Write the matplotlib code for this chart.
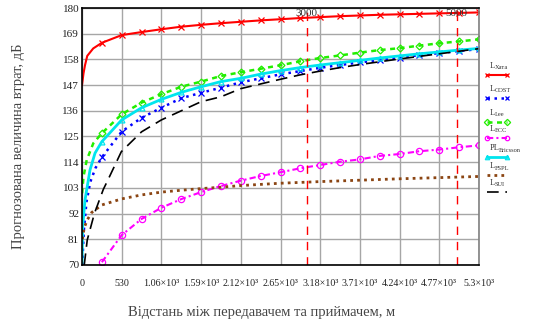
import matplotlib
matplotlib.use('Agg')
import matplotlib.pyplot as plt
from matplotlib.lines import Line2D

plt.rcParams['font.family'] = ['Liberation Serif', 'DejaVu Serif']

# ---------------- data ----------------
x_ticks = [0, 530, 1060, 1590, 2120, 2650, 3180, 3710, 4240, 4770, 5300]
x_tick_labels = ["0", "530", "1.06×10³", "1.59×10³", "2.12×10³", "2.65×10³",
                 "3.18×10³", "3.71×10³", "4.24×10³", "4.77×10³", "5.3×10³"]
y_ticks = [70, 81, 92, 103, 114, 125, 136, 147, 158, 169, 180]

d_marks = [265, 530, 795, 1060, 1325, 1590, 1855, 2120, 2385, 2650, 2915,
           3180, 3445, 3710, 3975, 4240, 4505, 4770, 5035, 5300]

# Hata (red)
hata_near_d = [0, 20, 40, 70, 150]
hata_near_v = [147, 152, 155.5, 159.5, 162.7]
hata_v = [165.1, 168.4, 169.7, 170.9, 172.0, 172.8, 173.5, 174.1, 174.7, 175.2,
          175.7, 176.1, 176.5, 176.8, 177.1, 177.3, 177.5, 177.7, 177.9, 178.1]

# COST (blue)
cost_near_d = [3, 25, 60, 110, 180]
cost_near_v = [70, 85, 97, 105.5, 111.5]
cost_v = [116.1, 127.1, 133.0, 137.3, 141.4, 143.7, 145.9, 148.2, 149.9, 151.6,
          153.0, 154.4, 155.6, 156.7, 157.8, 158.8, 159.8, 160.7, 161.6, 162.4]

# Lee (green)
lee_near_d = [2, 20, 63, 151]
lee_near_v = [100.7, 107.8, 114.9, 122.1]
lee_v = [126.4, 134.5, 139.5, 143.1, 146.3, 148.5, 150.9, 152.5, 154.0, 155.5,
         157.2, 158.6, 159.7, 160.9, 162.0, 162.8, 163.9, 164.9, 165.7, 166.6]

# ECC (magenta)
ecc_v = [71.2, 82.8, 89.7, 94.5, 98.2, 101.2, 103.8, 106.1, 108.1, 109.7,
         111.4, 112.8, 114.2, 115.2, 116.7, 117.5, 118.7, 119.4, 120.4, 121.2]

# Ericsson (cyan)
eric_near_d = [0, 9, 40, 107, 174]
eric_near_v = [70.1, 86.4, 97.8, 110.7, 117.9]
eric_v = [122.8, 132.1, 137.3, 140.9, 143.9, 146.3, 148.5, 149.9, 151.7, 153.2,
          154.5, 155.6, 156.6, 157.6, 158.6, 159.5, 160.4, 161.2, 162.0, 162.7]

# FSPL (brown)
fspl_d = [5, 30, 70, 130, 265, 530, 795, 1060, 1325, 1590, 1855, 2120, 2650,
          3180, 3710, 4240, 4770, 5300]
fspl_v = [81, 86, 89.3, 92.5, 95.7, 98.3, 100.0, 101.2, 102.0, 102.7, 103.3,
          104.0, 105.0, 105.7, 106.3, 106.9, 107.4, 107.9]

# SUI (black)
sui_d = [30, 70, 165, 285, 340, 525, 795, 1060, 1325, 1590, 1855, 2120, 2385,
         2650, 2915, 3180, 3445, 3710, 3975, 4240, 4505, 4770, 5035, 5300]
sui_v = [70, 80.7, 92, 102.4, 106, 118.5, 127, 132.1, 136.0, 139.9, 142.0,
         145.5, 147.5, 149.5, 151.4, 153.0, 154.5, 155.8, 157.0, 158.2, 159.3,
         160.4, 161.5, 162.6]

vlines_x = [3000, 5000]
vline_labels = ["3000", "5000"]

legend_labels = [("L", "Хата"), ("L", "COST"), ("L", "Lee"), ("L", "ECC"),
                 ("PL", "Ericsson"), ("L", "FSPL"), ("L", "SUI")]

# ---------------- figure ----------------
fig = plt.figure(figsize=(5.44, 3.26), dpi=100)
ax = fig.add_axes([82 / 544, 61 / 326, 397 / 544, 257 / 326])

ax.set_xlim(0, 5300)
ax.set_ylim(70, 180)
ax.set_xticks(x_ticks)
ax.set_xticklabels(x_tick_labels)
ax.set_yticks(y_ticks)
ax.set_yticklabels([str(v) for v in y_ticks])
ax.tick_params(length=0, labelsize=7.2, pad=10, axis='x')
ax.tick_params(length=0, labelsize=8, pad=2, axis='y')
for lbl in ax.get_xticklabels() + ax.get_yticklabels():
    lbl.set_color('#222222')
ax.grid(True, color='#a6a6a6', lw=1.0)
ax.set_axisbelow(True)
for s in ['left', 'bottom', 'top']:
    ax.spines[s].set_color('black')
    ax.spines[s].set_linewidth(1.2)
ax.spines['right'].set_color('#808080')
ax.spines['right'].set_linewidth(1.2)

styles = {}

n = len(hata_near_d)
styles['hata'] = dict(color='#ff0000', ls='-', lw=1.5, marker='x', ms=4.5, mew=0.9)
ax.plot(hata_near_d + d_marks, hata_near_v + hata_v,
        markevery=list(range(n, n + len(d_marks))), **styles['hata'])

n = len(cost_near_d)
styles['cost'] = dict(color='#0000ff', ls=(0, (1, 1.8)), lw=1.8, marker='x', ms=4.5, mew=0.9)
ax.plot(cost_near_d + d_marks, cost_near_v + cost_v,
        markevery=list(range(n, n + len(d_marks))), **styles['cost'])

n = len(lee_near_d)
styles['lee'] = dict(color='#22ee00', ls=(0, (2, 1.8)), lw=1.8, marker='D', ms=3.5,
                     mew=0.9, mfc='none')
ax.plot(lee_near_d + d_marks, lee_near_v + lee_v,
        markevery=list(range(n, n + len(d_marks))), **styles['lee'])

styles['ecc'] = dict(color='#ff00ff', ls=(0, (3, 1.5, 1, 1.5)), lw=1.5, marker='o',
                     ms=4.5, mew=0.9, mfc='none')
ax.plot(d_marks, ecc_v, **styles['ecc'])

n = len(eric_near_d)
styles['eric'] = dict(color='#00e5ee', ls='-', lw=2.0, marker='^', ms=3.5, mew=0.9,
                      mfc='none')
ax.plot(eric_near_d + d_marks, eric_near_v + eric_v,
        markevery=list(range(n, n + len(d_marks))), **styles['eric'])

styles['fspl'] = dict(color='#8b4513', ls=(0, (1, 1.5)), lw=2.0)
ax.plot(fspl_d, fspl_v, **styles['fspl'])

styles['sui'] = dict(color='black', ls=(0, (7, 4)), lw=1.2)
ax.plot(sui_d, sui_v, **styles['sui'])

for xv, lab in zip(vlines_x, vline_labels):
    ax.axvline(xv, color='red', ls=(0, (6, 5)), lw=1.0)
    ax.text(xv, 0.978, lab, transform=ax.get_xaxis_transform(), ha='center',
            va='center', fontsize=8, color='#333333')

# axis labels
fig.text(0.034, 0.55, "Прогнозована величина втрат, дБ", rotation=90,
         ha='center', va='center', fontsize=10.5, color='#444444')
fig.text(0.48, 0.042, "Відстань між передавачем та приймачем, м",
         ha='center', va='center', fontsize=10.5, color='#444444')

# legend (label above a short line sample, Mathcad style)
leg_keys = ['hata', 'cost', 'lee', 'ecc', 'eric', 'fspl', 'sui']
line_y = [75, 98, 122, 138, 157, 175, 192]
for key, (main, sub), ly in zip(leg_keys, legend_labels, line_y):
    st = dict(styles[key])
    st.pop('ms', None)
    yf = 1 - ly / 326
    ln = Line2D([487 / 544, 507 / 544], [yf, yf], transform=fig.transFigure,
                ms=3.2, markevery=[0, 1], **st)
    fig.add_artist(ln)
    ty = 1 - (ly - 9) / 326
    fig.text(490 / 544, ty, main, fontsize=6, ha='left', va='center',
             color='#333333')
    fig.text(490 / 544 + (5 if main == 'L' else 9) / 544, ty - 2 / 326, sub,
             fontsize=4.6, ha='left', va='center', color='#333333')

fig.savefig('out.png', dpi=100)
